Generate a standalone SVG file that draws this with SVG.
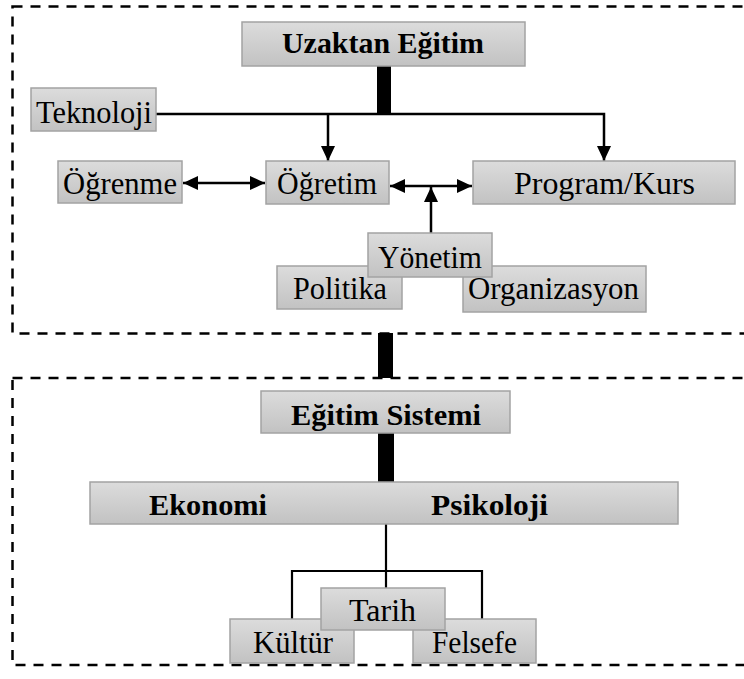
<svg xmlns="http://www.w3.org/2000/svg" width="744" height="679" viewBox="0 0 744 679">
<defs>
<linearGradient id="g" x1="0" y1="0" x2="0" y2="1">
<stop offset="0" stop-color="#dcdcdc"/>
<stop offset="1" stop-color="#c2c2c2"/>
</linearGradient>
<marker id="ah" markerUnits="userSpaceOnUse" markerWidth="16" markerHeight="14" refX="15" refY="7" orient="auto-start-reverse" viewBox="0 0 16 14">
<path d="M0,0 L15,7 L0,14 z" fill="#000"/>
</marker>
<style>
.box{fill:url(#g);stroke:#a3a3a3;stroke-width:1.5}
.t{font-family:"Liberation Serif","Times New Roman",serif;font-size:31px;fill:#000}
.b{font-family:"Liberation Serif","Times New Roman",serif;font-size:29px;font-weight:bold;fill:#000}
.dash{fill:none;stroke:#000;stroke-width:2.5;stroke-dasharray:10 8}
.ln{fill:none;stroke:#000;stroke-width:2.5}
.tl{fill:none;stroke:#000;stroke-width:2.2}
.bar{fill:#000}
</style>
</defs>
<rect class="dash" x="12.5" y="6.5" width="745" height="327"/>
<rect class="dash" x="12.5" y="378" width="745" height="287"/>
<g id="connectors">
<rect class="bar" x="377" y="66" width="14" height="49"/>
<polyline class="ln" points="156,114 604,114 604,161" marker-end="url(#ah)"/>
<line class="ln" x1="328" y1="114" x2="328" y2="161" marker-end="url(#ah)"/>
<line class="ln" x1="183" y1="183" x2="265" y2="183" marker-start="url(#ah)" marker-end="url(#ah)"/>
<line class="ln" x1="390" y1="186" x2="472" y2="186" marker-start="url(#ah)" marker-end="url(#ah)"/>
<line class="ln" x1="431" y1="233" x2="431" y2="187" marker-end="url(#ah)"/>
<rect class="bar" x="378" y="333" width="15" height="45"/>
<rect class="bar" x="378" y="433" width="16" height="49"/>
<line class="tl" x1="386" y1="524" x2="386" y2="588"/>
<polyline class="tl" points="292,619 292,571 482,571 482,619"/>
</g>
<g id="n-uzaktan"><rect class="box" x="242" y="22" width="283" height="44"/><text class="b" x="282" y="53" textLength="202" lengthAdjust="spacingAndGlyphs">Uzaktan Eğitim</text></g>
<g id="n-teknoloji"><rect class="box" x="31" y="88" width="125" height="43"/><text class="t" x="36" y="123" textLength="116" lengthAdjust="spacingAndGlyphs">Teknoloji</text></g>
<g id="n-ogrenme"><rect class="box" x="58" y="161" width="124" height="42"/><text class="t" x="63" y="194" textLength="114" lengthAdjust="spacingAndGlyphs">Öğrenme</text></g>
<g id="n-ogretim"><rect class="box" x="266" y="161" width="123" height="43"/><text class="t" x="277" y="194" textLength="100" lengthAdjust="spacingAndGlyphs">Öğretim</text></g>
<g id="n-program"><rect class="box" x="473" y="161" width="262" height="43"/><text class="t" x="514" y="194" textLength="181" lengthAdjust="spacingAndGlyphs">Program/Kurs</text></g>
<g id="n-politika"><rect class="box" x="277" y="266" width="125" height="43"/><text class="t" x="293" y="299" textLength="94" lengthAdjust="spacingAndGlyphs">Politika</text></g>
<g id="n-organizasyon"><rect class="box" x="463" y="266" width="183" height="46"/><text class="t" x="468" y="299" textLength="171" lengthAdjust="spacingAndGlyphs">Organizasyon</text></g>
<g id="n-yonetim"><rect class="box" x="368" y="233" width="124" height="44"/><text class="t" x="378" y="268" textLength="104" lengthAdjust="spacingAndGlyphs">Yönetim</text></g>
<g id="n-egitim-sistemi"><rect class="box" x="261" y="391" width="249" height="42"/><text class="b" x="291" y="425" textLength="190" lengthAdjust="spacingAndGlyphs">Eğitim Sistemi</text></g>
<g id="n-ekonomi-psikoloji"><rect class="box" x="90" y="482" width="588" height="42"/><text class="b" x="149" y="515" textLength="118" lengthAdjust="spacingAndGlyphs">Ekonomi</text><text class="b" x="431" y="515" textLength="117" lengthAdjust="spacingAndGlyphs">Psikoloji</text></g>
<g id="n-kultur"><rect class="box" x="230" y="619" width="124" height="44"/><text class="t" x="253" y="653" textLength="80" lengthAdjust="spacingAndGlyphs">Kültür</text></g>
<g id="n-felsefe"><rect class="box" x="413" y="619" width="123" height="44"/><text class="t" x="432" y="653" textLength="85" lengthAdjust="spacingAndGlyphs">Felsefe</text></g>
<g id="n-tarih"><rect class="box" x="321" y="588" width="124" height="42"/><text class="t" x="349" y="621" textLength="67" lengthAdjust="spacingAndGlyphs">Tarih</text></g>
</svg>
